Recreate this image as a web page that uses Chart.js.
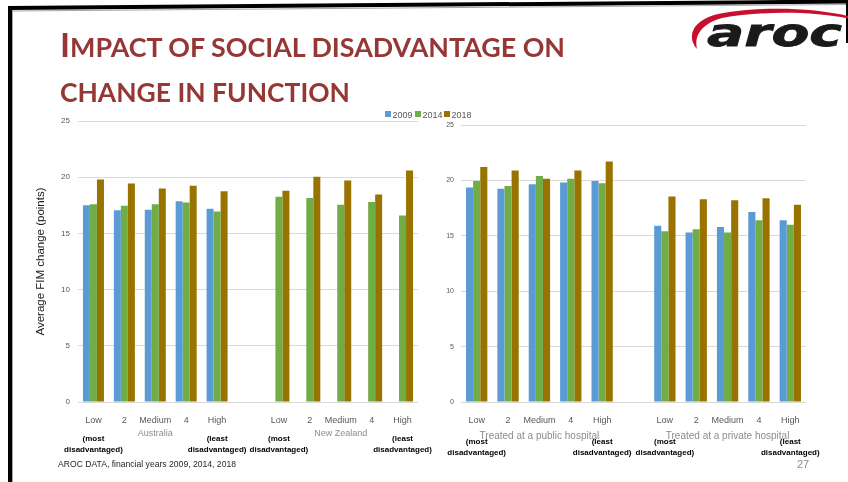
<!DOCTYPE html>
<html>
<head>
<meta charset="utf-8">
<title>Impact of social disadvantage on change in function</title>
<script src="https://cdn.jsdelivr.net/npm/chart.js@4/dist/chart.umd.min.js"></script>
<style>
  html, body { margin: 0; padding: 0; background: #fff; }
  body { width: 848px; height: 482px; position: relative; overflow: hidden; font-family: "Liberation Sans", Arial, sans-serif; }
  .panel { position: absolute; top: 105px; height: 355px; }
  #leftPanel { left: 30px; width: 420px; }
  #rightPanel { left: 430px; width: 418px; }
  svg.slide { position: absolute; left: 0; top: 0; pointer-events: none; }
</style>
</head>
<body>
<div class="panel" id="leftPanel"><canvas id="leftChart"></canvas></div>
<div class="panel" id="rightPanel"><canvas id="rightChart"></canvas></div>

<svg class="slide" id="slide" width="848" height="482" xmlns="http://www.w3.org/2000/svg">
  <!-- slide frame -->
  <polygon points="8,6 848,-0.5 848,3.5 8,10" fill="#000"/>
  <line x1="12" y1="11" x2="848" y2="4.5" stroke="#a6a6a6" stroke-width="1"/>
  <rect x="8" y="6" width="4" height="476" fill="#000"/>
  <line x1="12.5" y1="10" x2="12.5" y2="482" stroke="#a6a6a6" stroke-width="1"/>
  <rect x="846" y="3" width="2" height="40" fill="#000"/>

  <!-- heading -->
  <text x="60" y="56.5" fill="#953735" font-family="Lato, 'Open Sans', sans-serif" font-weight="bold"
        textLength="505" lengthAdjust="spacingAndGlyphs"><tspan font-size="33">I</tspan><tspan font-size="26">MPACT OF SOCIAL DISADVANTAGE ON</tspan></text>
  <text x="60" y="102" fill="#953735" font-family="Lato, 'Open Sans', sans-serif" font-weight="bold" font-size="26"
        textLength="290" lengthAdjust="spacingAndGlyphs">CHANGE IN FUNCTION</text>

  <!-- logo -->
  <path d="M697 49 C687 38 691 22 714 15 C750 6 812 7 848 16 L848 18.5 C812 11 758 11 722 18 C701 24 694 36 697 49 Z" fill="#c8102e"/>
  <text x="707" y="46" font-family="'DejaVu Sans', sans-serif" font-weight="bold" font-style="italic" font-size="37"
        fill="#1a1a1a" stroke="#1a1a1a" stroke-width="0.8" textLength="135" lengthAdjust="spacingAndGlyphs">aroc</text>

  <g id="legend"></g>

  <!-- footer -->
  <text x="58" y="467" font-family="'Liberation Sans', Arial, sans-serif" font-size="9" fill="#262626"
        textLength="178" lengthAdjust="spacingAndGlyphs">AROC DATA, financial years 2009, 2014, 2018</text>
  <text x="797" y="468" font-family="'Liberation Sans', Arial, sans-serif" font-size="11" fill="#8c8c8c">27</text>
</svg>

<script>
// ---- series and categories ----
const seriesNames  = ['2009', '2014', '2018'];
const seriesColors = ['#5B9BD5', '#70AD47', '#997300'];
const levels = ['Low', '2', 'Medium', '4', 'High'];
const leftGroups  = ['Australia', 'New Zealand'];
const rightGroups = ['Treated at a public hospital', 'Treated at a private hospital'];
const yTitle = 'Average FIM change (points)';
const mostNote  = ['(most', 'disadvantaged)'];
const leastNote = ['(least', 'disadvantaged)'];
const yMin = 0, yMax = 25, yStep = 5;

// Australia
const au2009 = [17.5, 17.05, 17.1, 17.85, 17.2];
const au2014 = [17.6, 17.45, 17.6, 17.75, 16.95];
const au2018 = [19.8, 19.45, 19.0, 19.25, 18.75];
// New Zealand (no 2009 figures)
const nz2009 = [null, null, null, null, null];
const nz2014 = [18.25, 18.15, 17.55, 17.8, 16.6];
const nz2018 = [18.8, 20.05, 19.7, 18.45, 20.6];
// Treated at a public hospital
const pub2009 = [19.35, 19.25, 19.65, 19.8, 19.95];
const pub2014 = [19.95, 19.5, 20.4, 20.15, 19.75];
const pub2018 = [21.2, 20.9, 20.15, 20.9, 21.7];
// Treated at a private hospital
const priv2009 = [15.9, 15.3, 15.8, 17.15, 16.4];
const priv2014 = [15.4, 15.6, 15.3, 16.4, 16.0];
const priv2018 = [18.55, 18.3, 18.2, 18.4, 17.8];

Chart.defaults.font.family = '"Liberation Sans", Arial, sans-serif';
Chart.defaults.color = '#595959';

// two groups of levels separated by an empty slot
const categories = [...levels, '', ...levels];
const joinGroups = (a, b) => [...a, null, ...b];

// group names under the axis plus the end notes for each group
const groupLabels = {
  id: 'groupLabels',
  afterDraw(chart, args, opts) {
    const { ctx } = chart;
    const x = chart.scales.x;
    ctx.save();
    ctx.textAlign = 'center';
    ctx.textBaseline = 'alphabetic';
    opts.groups.forEach((name, gi) => {
      const first = gi * (levels.length + 1);
      const last = first + levels.length - 1;
      const x0 = x.getPixelForValue(first);
      const x1 = x.getPixelForValue(last);
      ctx.font = opts.groupFont;
      ctx.fillStyle = '#8c8c8c';
      ctx.fillText(name, (x0 + x1) / 2, opts.groupY);
      ctx.font = 'bold 8px "Liberation Sans", Arial, sans-serif';
      ctx.fillStyle = '#000';
      ctx.fillText(mostNote[0], x0, opts.noteY);
      ctx.fillText(mostNote[1], x0, opts.noteY + 11);
      ctx.fillText(leastNote[0], x1, opts.noteY);
      ctx.fillText(leastNote[1], x1, opts.noteY + 11);
    });
    ctx.restore();
  }
};

function makeChart(id, series, cfg) {
  return new Chart(document.getElementById(id), {
    type: 'bar',
    data: {
      labels: categories,
      datasets: seriesNames.map((name, i) => ({
        label: name,
        data: series[i],
        backgroundColor: seriesColors[i],
        borderWidth: 0,
        categoryPercentage: 0.68,
        barPercentage: 1.0
      }))
    },
    options: {
      responsive: true,
      maintainAspectRatio: false,
      animation: false,
      events: [],
      layout: { padding: { top: cfg.padTop, right: cfg.padRight, left: 0, bottom: 0 } },
      plugins: {
        legend: { display: false },
        tooltip: { enabled: false },
        groupLabels: cfg.groupOpts
      },
      scales: {
        x: {
          grid: { display: false },
          border: { display: false },
          ticks: { autoSkip: false, maxRotation: 0, padding: 5, color: '#595959', font: { size: 9 } },
          afterFit: s => { s.height = 58; }
        },
        y: {
          min: yMin, max: yMax,
          grid: { color: '#d9d9d9', lineWidth: 1, drawTicks: false },
          border: { display: false },
          ticks: { stepSize: yStep, padding: cfg.tickPad, color: '#595959', font: { size: cfg.yTickSize } },
          title: cfg.yTitle,
          afterFit: s => { s.width = cfg.yWidth; }
        }
      }
    },
    plugins: [groupLabels]
  });
}

const leftChart = makeChart('leftChart', [
  joinGroups(au2009, nz2009),
  joinGroups(au2014, nz2014),
  joinGroups(au2018, nz2018)
], {
  padTop: 16, padRight: 32, yWidth: 48, tickPad: 8, yTickSize: 8,
  yTitle: { display: true, text: yTitle, color: '#1a1a1a', font: { size: 11.5 }, padding: { top: 4, bottom: 0 } },
  groupOpts: { groups: leftGroups, groupY: 330.5, noteY: 336, groupFont: '9px "Liberation Sans", Arial, sans-serif' }
});

const rightChart = makeChart('rightChart', [
  joinGroups(pub2009, priv2009),
  joinGroups(pub2014, priv2014),
  joinGroups(pub2018, priv2018)
], {
  padTop: 20, padRight: 42, yWidth: 31, tickPad: 7, yTickSize: 7,
  yTitle: { display: false },
  groupOpts: { groups: rightGroups, groupY: 333.5, noteY: 339, groupFont: '10px "Liberation Sans", Arial, sans-serif' }
});

// shared legend, built from the chart's own datasets
(function buildLegend() {
  const ns = 'http://www.w3.org/2000/svg';
  const g = document.getElementById('legend');
  const xs = [385, 415, 444];
  leftChart.data.datasets.forEach((ds, i) => {
    const r = document.createElementNS(ns, 'rect');
    r.setAttribute('x', xs[i]); r.setAttribute('y', 111);
    r.setAttribute('width', 6); r.setAttribute('height', 6);
    r.setAttribute('fill', ds.backgroundColor);
    g.appendChild(r);
    const t = document.createElementNS(ns, 'text');
    t.setAttribute('x', xs[i] + 7.5); t.setAttribute('y', 117.5);
    t.setAttribute('font-family', '"Liberation Sans", Arial, sans-serif');
    t.setAttribute('font-size', '9'); t.setAttribute('fill', '#595959');
    t.textContent = ds.label;
    g.appendChild(t);
  });
})();
</script>
</body>
</html>
